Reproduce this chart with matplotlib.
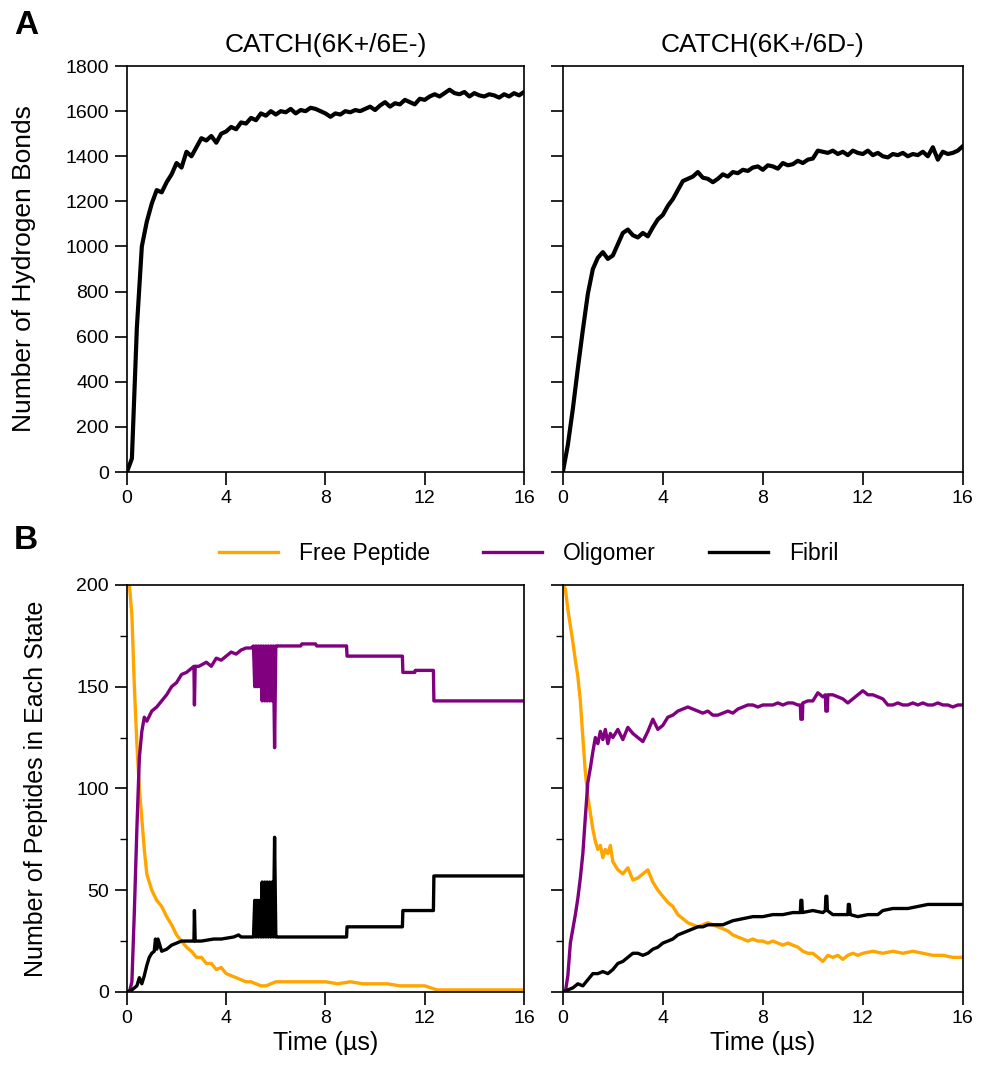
import matplotlib
matplotlib.use("Agg")
import matplotlib.pyplot as plt
from matplotlib.ticker import MultipleLocator
import numpy as np

plt.rcParams["font.family"] = ["Liberation Sans", "DejaVu Sans"]

ORANGE = "#FFA500"
PURPLE = "#800080"
BLACK = "#000000"

TITLES = ["CATCH(6K+/6E-)", "CATCH(6K+/6D-)"]
SERIES_NAMES = ["Free Peptide", "Oligomer", "Fibril"]

# --- hydrogen bonds (0.2 us grid) ---
t_hb = np.arange(0, 16.01, 0.2)
hb_e = [0, 60, 640, 1000, 1110, 1190, 1250, 1240, 1285, 1320,
        1370, 1350, 1420, 1400, 1440, 1480, 1470, 1490, 1460, 1500,
        1510, 1530, 1520, 1550, 1545, 1570, 1560, 1590, 1580, 1600,
        1585, 1600, 1595, 1610, 1590, 1605, 1600, 1615, 1610, 1600,
        1590, 1575, 1590, 1585, 1600, 1595, 1605, 1600, 1610, 1620,
        1605, 1625, 1640, 1620, 1635, 1630, 1650, 1640, 1630, 1655,
        1650, 1665, 1675, 1665, 1680, 1695, 1680, 1675, 1685, 1665,
        1680, 1670, 1665, 1675, 1670, 1660, 1675, 1665, 1680, 1670,
        1685]
hb_d = [0, 120, 280, 460, 630, 790, 900, 950, 975, 945,
        960, 1010, 1060, 1075, 1050, 1040, 1060, 1045, 1085, 1120,
        1140, 1180, 1210, 1250, 1290, 1300, 1310, 1330, 1305, 1300,
        1285, 1300, 1320, 1310, 1330, 1325, 1340, 1335, 1350, 1355,
        1340, 1360, 1355, 1345, 1370, 1360, 1365, 1380, 1370, 1385,
        1390, 1425, 1420, 1415, 1425, 1410, 1420, 1405, 1425, 1415,
        1410, 1425, 1405, 1415, 1400, 1395, 1410, 1405, 1415, 1400,
        1410, 1405, 1420, 1400, 1440, 1385, 1420, 1410, 1415, 1425,
        1445]

# --- peptide states, CATCH(6K+/6E-) ---
t_free_e = [0, 0.1, 0.2, 0.3, 0.4, 0.5, 0.6, 0.7, 0.8,
            1.0, 1.2, 1.4, 1.6, 1.8, 2.0, 2.2, 2.4, 2.6, 2.8,
            3.0, 3.2, 3.4, 3.6, 3.8, 4.0, 4.2, 4.4, 4.6, 4.8,
            5.0, 5.2, 5.4, 5.6, 5.8, 6.0,
            6.5, 7.0, 7.5, 8.0, 8.5, 9.0, 9.5, 10.0, 10.5, 11.0,
            11.5, 12.0, 12.5, 13.0, 14.0, 15.0, 16.0]
free_e = [200, 200, 185, 150, 122, 100, 85, 70, 58,
          50, 45, 42, 37, 33, 28, 25, 22, 20, 17,
          17, 14, 14, 11, 12, 9, 8, 7, 6, 5,
          5, 4, 3, 3, 4, 5,
          5, 5, 5, 5, 4, 5, 4, 4, 4, 3,
          3, 3, 1, 1, 1, 1, 1]

t_olig_e = [0, 0.1, 0.2, 0.3, 0.4, 0.5, 0.6, 0.7, 0.8,
            1.0, 1.2, 1.4, 1.6, 1.8, 2.0, 2.2, 2.4, 2.6,
            2.7, 2.72, 2.75, 2.9,
            3.2, 3.4, 3.6, 3.8, 4.0, 4.2, 4.4, 4.6, 4.8, 5.0, 5.1,
            5.15, 5.2, 5.25, 5.3, 5.35, 5.4, 5.45, 5.5, 5.55, 5.6,
            5.65, 5.7, 5.75, 5.8, 5.85, 5.9, 5.95, 6.0, 6.05,
            7.0, 7.05, 7.6, 7.65, 8.85, 8.87, 9.5, 9.55,
            11.1, 11.12, 11.6, 11.62, 12.35, 12.37, 16.0]
olig_e = [0, 0, 5, 40, 80, 115, 128, 135, 133,
          138, 140, 143, 146, 150, 152, 156, 157, 159,
          160, 141, 160, 160,
          162, 160, 164, 163, 165, 167, 166, 168, 169, 169, 170,
          150, 170, 150, 170, 150, 170, 143, 170, 143, 170,
          143, 170, 143, 170, 143, 170, 120, 170, 170,
          170, 171, 171, 170, 170, 165, 165, 165,
          165, 157, 157, 158, 158, 143, 143]

t_fib_e = [0, 0.2, 0.3, 0.4, 0.5, 0.6, 0.7, 0.8, 0.9, 1.0,
           1.1, 1.15, 1.2, 1.25, 1.4, 1.6, 1.8, 2.0, 2.2, 2.5,
           2.7, 2.72, 2.75, 3.0, 3.5, 3.8, 4.3, 4.5, 4.6, 4.8, 5.1,
           5.15, 5.2, 5.25, 5.3, 5.35, 5.4, 5.45, 5.5, 5.55, 5.6,
           5.65, 5.7, 5.75, 5.8, 5.85, 5.9, 5.95, 6.0, 6.05,
           8.85, 8.87, 11.1, 11.12, 12.35, 12.37, 16.0]
fib_e = [0, 1, 2, 3, 7, 4, 8, 13, 17, 19,
         20, 26, 21, 26, 20, 21, 23, 24, 25, 25,
         25, 40, 25, 25, 26, 26, 27, 28, 27, 27, 27,
         45, 27, 45, 27, 45, 27, 54, 27, 54, 27,
         54, 27, 54, 27, 54, 27, 76, 27, 27,
         27, 32, 32, 40, 40, 57, 57]

# --- peptide states, CATCH(6K+/6D-) ---
t_free_d = [0, 0.1, 0.2, 0.3, 0.4, 0.5, 0.6, 0.7, 0.8, 0.9, 1.0,
            1.1, 1.2, 1.3, 1.4, 1.5, 1.6, 1.7, 1.8, 1.9, 2.0,
            2.2, 2.4, 2.6, 2.8, 3.0, 3.2, 3.4, 3.6, 3.8, 4.0,
            4.2, 4.4, 4.6, 4.8, 5.0, 5.2, 5.4, 5.6, 5.8, 6.0,
            6.2, 6.4, 6.6, 6.8, 7.0, 7.2, 7.4, 7.6, 7.8, 8.0,
            8.2, 8.4, 8.6, 8.8, 9.0, 9.2, 9.4, 9.6, 9.8, 10.0,
            10.2, 10.4, 10.6, 10.8, 11.0, 11.2, 11.4, 11.6, 11.8, 12.0,
            12.4, 12.8, 13.2, 13.6, 14.0, 14.4, 14.8, 15.2, 15.6, 16.0]
free_d = [200, 198, 188, 180, 172, 163, 155, 143, 125, 108, 96,
          88, 80, 74, 70, 72, 66, 70, 68, 72, 64,
          60, 58, 61, 55, 56, 58, 60, 54, 50, 47,
          44, 42, 38, 36, 34, 33, 32, 33, 34, 33,
          32, 31, 30, 28, 27, 26, 25, 26, 25, 25,
          24, 25, 24, 23, 24, 23, 22, 20, 19, 19,
          17, 15, 18, 17, 18, 16, 18, 19, 18, 19,
          20, 19, 20, 19, 20, 19, 18, 18, 17, 17]

t_olig_d = [0, 0.1, 0.2, 0.3, 0.4, 0.5, 0.6, 0.7, 0.8, 0.9, 1.0,
            1.1, 1.2, 1.3, 1.4, 1.5, 1.6, 1.7, 1.8, 1.9, 2.0,
            2.2, 2.4, 2.6, 2.8, 3.0, 3.2, 3.4, 3.6, 3.8, 4.0,
            4.2, 4.4, 4.6, 4.8, 5.0, 5.2, 5.4, 5.6, 5.8, 6.0,
            6.2, 6.4, 6.6, 6.8, 7.0, 7.2, 7.4, 7.6, 7.8, 8.0,
            8.2, 8.4, 8.6, 8.8, 9.0, 9.2, 9.4, 9.5, 9.52, 9.58, 9.6,
            9.8, 10.0, 10.2, 10.4, 10.5, 10.52, 10.58, 10.6, 10.8, 11.0,
            11.2, 11.4, 11.6, 11.8, 12.0, 12.2, 12.4, 12.6, 12.8, 13.0,
            13.2, 13.4, 13.6, 13.8, 14.0, 14.2, 14.4, 14.6, 14.8, 15.0,
            15.2, 15.4, 15.6, 15.8, 16.0]
olig_d = [0, 0, 8, 24, 31, 38, 46, 56, 68, 86, 103,
          110, 118, 125, 122, 128, 124, 129, 122, 127, 125,
          129, 124, 130, 127, 125, 123, 128, 134, 129, 131,
          135, 136, 138, 139, 140, 139, 138, 137, 138, 136,
          136, 137, 138, 137, 139, 140, 141, 141, 140, 141,
          141, 141, 142, 141, 142, 142, 141, 141, 134, 134, 142,
          143, 143, 147, 145, 146, 138, 138, 146, 146, 145,
          144, 142, 144, 146, 148, 146, 146, 145, 144, 141,
          141, 142, 141, 141, 142, 141, 142, 141, 141, 142,
          141, 141, 140, 141, 141]

t_fib_d = [0, 0.2, 0.4, 0.6, 0.8, 1.0, 1.2, 1.4, 1.6, 1.8,
           2.0, 2.2, 2.4, 2.6, 2.8, 3.0, 3.2, 3.4, 3.6, 3.8,
           4.0, 4.2, 4.4, 4.6, 4.8, 5.0, 5.2, 5.4, 5.6, 5.8,
           6.0, 6.4, 6.8, 7.2, 7.6, 8.0, 8.4, 8.8, 9.2, 9.5,
           9.52, 9.56, 9.58, 10.0, 10.4, 10.5, 10.52, 10.56, 10.58, 10.8,
           11.2, 11.4, 11.42, 11.46, 11.5, 11.8, 12.2, 12.6, 12.8, 13.2,
           13.8, 14.2, 14.6, 15.2, 16.0]
fib_d = [0, 1, 2, 4, 3, 6, 9, 9, 10, 9,
         11, 14, 15, 17, 19, 19, 18, 19, 21, 22,
         24, 25, 26, 28, 29, 30, 31, 32, 32, 33,
         33, 33, 35, 36, 37, 37, 38, 38, 39, 39,
         45, 45, 39, 40, 39, 40, 47, 47, 40, 38,
         38, 38, 43, 43, 38, 37, 38, 38, 40, 41,
         41, 42, 43, 43, 43]


def style_axis(ax, show_left):
    for sp in ax.spines.values():
        sp.set_linewidth(1.2)
    ax.tick_params(which="major", direction="out", length=9, width=1.2,
                   labelsize=14, pad=4, labelleft=show_left)
    ax.tick_params(which="minor", direction="out", length=5, width=1.0)
    ax.set_xlim(0, 16)
    ax.xaxis.set_major_locator(MultipleLocator(4))


fig = plt.figure(figsize=(9.84, 10.74), dpi=100)

ax_hb_e = fig.add_axes([0.129, 0.5605, 0.4035, 0.378])
ax_hb_d = fig.add_axes([0.572, 0.5605, 0.4065, 0.378])
ax_st_e = fig.add_axes([0.129, 0.0764, 0.4035, 0.379])
ax_st_d = fig.add_axes([0.572, 0.0764, 0.4065, 0.379])

# top row: hydrogen bonds
for ax, vals, title, left in [(ax_hb_e, hb_e, TITLES[0], True),
                              (ax_hb_d, hb_d, TITLES[1], False)]:
    ax.plot(t_hb, vals, color=BLACK, lw=3.0)
    ax.set_ylim(0, 1800)
    ax.yaxis.set_major_locator(MultipleLocator(200))
    ax.set_title(title, fontsize=19, pad=10)
    style_axis(ax, left)

ax_hb_e.set_ylabel("Number of Hydrogen Bonds", fontsize=19)
ax_hb_e.yaxis.set_label_coords(-0.23, 0.5)

# bottom row: peptide states
panels = [
    (ax_st_e, (t_free_e, free_e), (t_olig_e, olig_e), (t_fib_e, fib_e), True),
    (ax_st_d, (t_free_d, free_d), (t_olig_d, olig_d), (t_fib_d, fib_d), False),
]
handles = []
for ax, fr, ol, fb, left in panels:
    h1, = ax.plot(fr[0], fr[1], color=ORANGE, lw=2.4)
    h2, = ax.plot(ol[0], ol[1], color=PURPLE, lw=2.4)
    h3, = ax.plot(fb[0], fb[1], color=BLACK, lw=2.4)
    handles = [h1, h2, h3]
    ax.set_ylim(0, 200)
    ax.yaxis.set_major_locator(MultipleLocator(50))
    ax.yaxis.set_minor_locator(MultipleLocator(25))
    ax.set_xlabel("Time (\u00b5s)", fontsize=18, labelpad=3)
    style_axis(ax, left)

ax_st_e.set_ylabel("Number of Peptides in Each State", fontsize=18)
ax_st_e.yaxis.set_label_coords(-0.2, 0.5)

fig.legend(handles, SERIES_NAMES, loc="center", bbox_to_anchor=(0.537, 0.485),
           ncol=3, frameon=False, fontsize=16.5, handlelength=2.6,
           handletextpad=0.9, columnspacing=2.3)

fig.text(0.014, 0.976, "A", fontsize=24, fontweight="bold", va="center")
fig.text(0.014, 0.497, "B", fontsize=24, fontweight="bold", va="center")

fig.savefig("out.png", dpi=100)
plt.close(fig)
